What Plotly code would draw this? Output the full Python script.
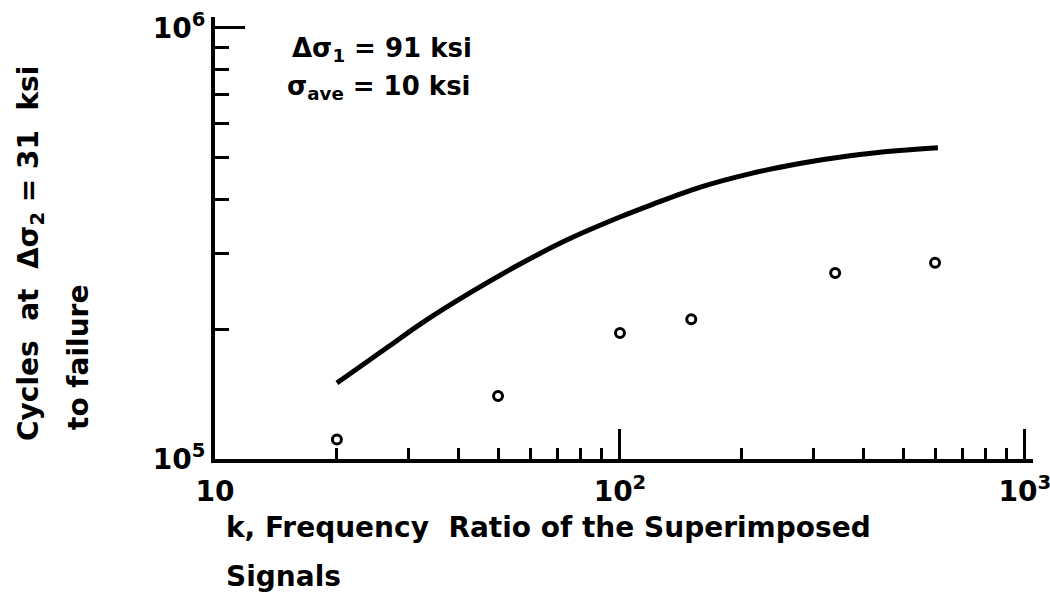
import plotly.graph_objects as go

# Frequency ratio k and cycles to failure: test points
k_test = [20, 50, 100, 150, 340, 600]
n_test = [1.11e5, 1.40e5, 1.96e5, 2.11e5, 2.70e5, 2.85e5]

# Predicted curve
k_pred = [20, 27, 32, 43, 57, 75, 100, 120, 158, 210, 280, 370, 490, 610]
n_pred = [1.50e5, 1.83e5, 2.05e5, 2.44e5, 2.84e5, 3.24e5, 3.64e5, 3.89e5,
          4.27e5, 4.59e5, 4.85e5, 5.05e5, 5.19e5, 5.27e5]

# Axis ticks
x_major = [10, 100, 1000]
x_major_text = ["10", "10<sup>2</sup>", "10<sup>3</sup>"]
x_minor = [20, 30, 40, 50, 60, 70, 80, 90, 200, 300, 400, 500, 600, 700, 800, 900]
y_major = [1e5, 1e6]
y_major_text = ["10<sup>5</sup>", "10<sup>6</sup>"]
y_minor = [2e5, 3e5, 4e5, 5e5, 6e5, 7e5, 8e5, 9e5]

FONT = "DejaVu Sans"
INK = "black"

W, H = 1050, 611
ML, MR, MT, MB = 215, 17, 17, 152
PW, PH = W - ML - MR, H - MT - MB


def px(xp):
    return (xp - ML) / PW


def py(yp):
    return (H - MB - yp) / PH


fig = go.Figure()

fig.add_trace(go.Scatter(
    x=k_pred, y=n_pred, mode="lines",
    line=dict(color=INK, width=5, shape="spline", smoothing=1.0),
    hoverinfo="skip", showlegend=False,
))

fig.add_trace(go.Scatter(
    x=k_test, y=n_test, mode="markers",
    marker=dict(symbol="circle-open", size=9, color=INK, line=dict(width=3, color=INK)),
    showlegend=False,
))

axis_font = dict(family=FONT, size=28, color=INK, weight="bold")

fig.update_xaxes(
    type="log", range=[1, 3.02], automargin=False,
    showgrid=False, zeroline=False,
    showline=True, linecolor=INK, linewidth=4,
    tickmode="array", tickvals=x_major, ticktext=x_major_text,
    ticks="inside", ticklen=30, tickwidth=3, tickcolor=INK,
    tickfont=axis_font, ticklabelstandoff=4, ticklabeloverflow="allow",
    minor=dict(tickmode="array", tickvals=x_minor, ticks="inside",
               ticklen=11, tickwidth=3, tickcolor=INK),
)
fig.update_yaxes(
    type="log", range=[5, 6.025], automargin=False,
    showgrid=False, zeroline=False,
    showline=True, linecolor=INK, linewidth=4,
    tickmode="array", tickvals=y_major, ticktext=y_major_text,
    ticks="inside", ticklen=30, tickwidth=3, tickcolor=INK,
    tickfont=axis_font, ticklabelstandoff=0, ticklabeloverflow="allow",
    minor=dict(tickmode="array", tickvals=y_minor, ticks="inside",
               ticklen=14, tickwidth=3, tickcolor=INK),
)

text_font = dict(family=FONT, size=26, color=INK, weight="bold")
title_font = dict(family=FONT, size=28, color=INK, weight="bold")

annotations = [
    # stress conditions
    dict(text="Δσ<sub>1</sub> = 91 ksi", x=px(290), y=py(50),
         xanchor="left", yanchor="middle", font=text_font),
    dict(text="σ<sub>ave</sub> = 10 ksi", x=px(285), y=py(87),
         xanchor="left", yanchor="middle", font=text_font),
    # x axis title, two lines
    dict(text="k, Frequency  Ratio of the Superimposed", x=px(224), y=py(527),
         xanchor="left", yanchor="middle", font=title_font),
    dict(text="Signals", x=px(224), y=py(576),
         xanchor="left", yanchor="middle", font=title_font),
    # y axis title, two rotated lines
    dict(text="Cycles  at  Δσ<sub>2</sub> = 31  ksi", x=px(30), y=py(254),
         xanchor="center", yanchor="middle", textangle=-90, font=title_font),
    dict(text="to failure", x=px(78), y=py(358),
         xanchor="center", yanchor="middle", textangle=-90, font=title_font),
]
for a in annotations:
    a.update(xref="paper", yref="paper", showarrow=False)

fig.update_layout(
    width=W, height=H,
    margin=dict(l=ML, r=MR, t=MT, b=MB),
    paper_bgcolor="white", plot_bgcolor="white",
    annotations=annotations,
    showlegend=False,
)

fig.write_html("out.html")
